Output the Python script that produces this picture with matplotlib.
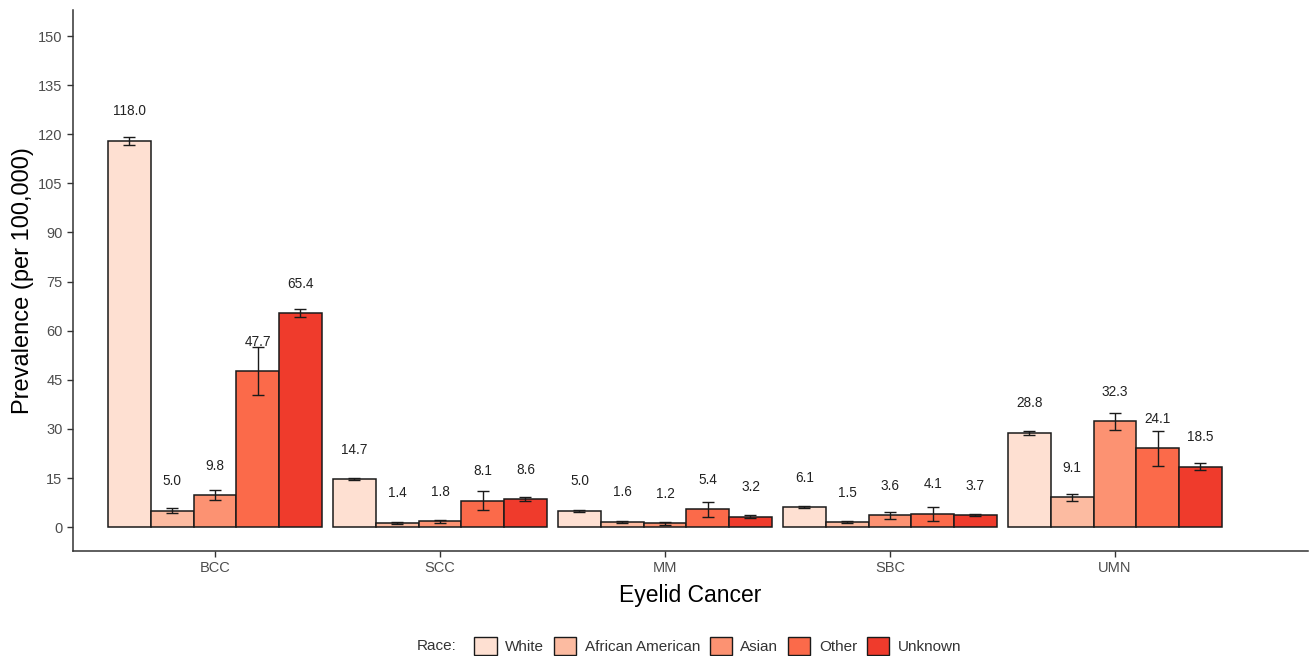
import matplotlib
matplotlib.use("Agg")
import matplotlib.pyplot as plt
import numpy as np
from matplotlib.patches import Patch

plt.rcParams['font.family'] = ['Liberation Sans', 'DejaVu Sans']

cancers = ["BCC", "SCC", "MM", "SBC", "UMN"]
races = ["White", "African American", "Asian", "Other", "Unknown"]
colors = ["#FEE0D2", "#FCBBA1", "#FC9272", "#FB6A4A", "#EF3B2C"]

# prevalence per race, one list per race across cancers
white = [118.0, 14.7, 5.0, 6.1, 28.8]
african_american = [5.0, 1.4, 1.6, 1.5, 9.1]
asian = [9.8, 1.8, 1.2, 3.6, 32.3]
other = [47.7, 8.1, 5.4, 4.1, 24.1]
unknown = [65.4, 8.6, 3.2, 3.7, 18.5]

# half-width of the error bars
white_err = [1.3, 0.4, 0.3, 0.3, 0.7]
african_american_err = [0.7, 0.3, 0.3, 0.3, 1.1]
asian_err = [1.5, 0.5, 0.5, 1.1, 2.7]
other_err = [7.2, 3.0, 2.3, 2.2, 5.3]
unknown_err = [1.3, 0.6, 0.4, 0.4, 1.0]

values = [white, african_american, asian, other, unknown]
errors = [white_err, african_american_err, asian_err, other_err, unknown_err]

fig = plt.figure(figsize=(13.11, 6.56), dpi=100)
ax = fig.add_axes([0.0557, 0.160, 0.942, 0.825])

x = np.arange(len(cancers))
group_w = 0.95
bw = group_w / len(races)
for i, (vals, errs, c, r) in enumerate(zip(values, errors, colors, races)):
    pos = x - group_w / 2 + bw * (i + 0.5)
    ax.bar(pos, vals, width=bw, color=c, edgecolor="#1a1a1a", linewidth=1.1, label=r, zorder=2)
    ax.errorbar(pos, vals, yerr=errs, fmt="none", ecolor="#1a1a1a", elinewidth=1.0,
                capsize=4, capthick=1.0, zorder=3)
    for p, v in zip(pos, vals):
        ax.text(p, v + 9, f"{v:.1f}", ha="center", va="center", fontsize=9.8,
                color="#222222", zorder=4)

ax.set_xlim(-0.631, 4.858)
ax.set_ylim(-7.3, 158)
ax.set_yticks(np.arange(0, 151, 15))
ax.set_xticks(x)
ax.set_xticklabels(cancers)
ax.tick_params(axis="both", colors="#333333", labelcolor="#4d4d4d", labelsize=10.5,
               length=4, width=1.0)
for s in ["top", "right"]:
    ax.spines[s].set_visible(False)
for s in ["left", "bottom"]:
    ax.spines[s].set_color("#333333")
    ax.spines[s].set_linewidth(1.1)

ax.set_ylabel("Prevalence (per 100,000)", fontsize=17, color="black", labelpad=3)
ax.set_xlabel("Eyelid Cancer", fontsize=16.5, color="black", labelpad=6)

handles = [Patch(facecolor=c, edgecolor="#1a1a1a", linewidth=1.0) for c in colors]
fig.text(0.333, 0.0152, "Race:", fontsize=11, color="#333333", ha="center", va="center")
fig.legend(handles, races, loc="center", bbox_to_anchor=(0.5475, 0.0152), ncol=5,
           frameon=False, fontsize=11, handlelength=1.45, handleheight=1.45,
           handletextpad=0.55, columnspacing=0.65, labelcolor="#333333")

fig.savefig("out.png", dpi=100)
